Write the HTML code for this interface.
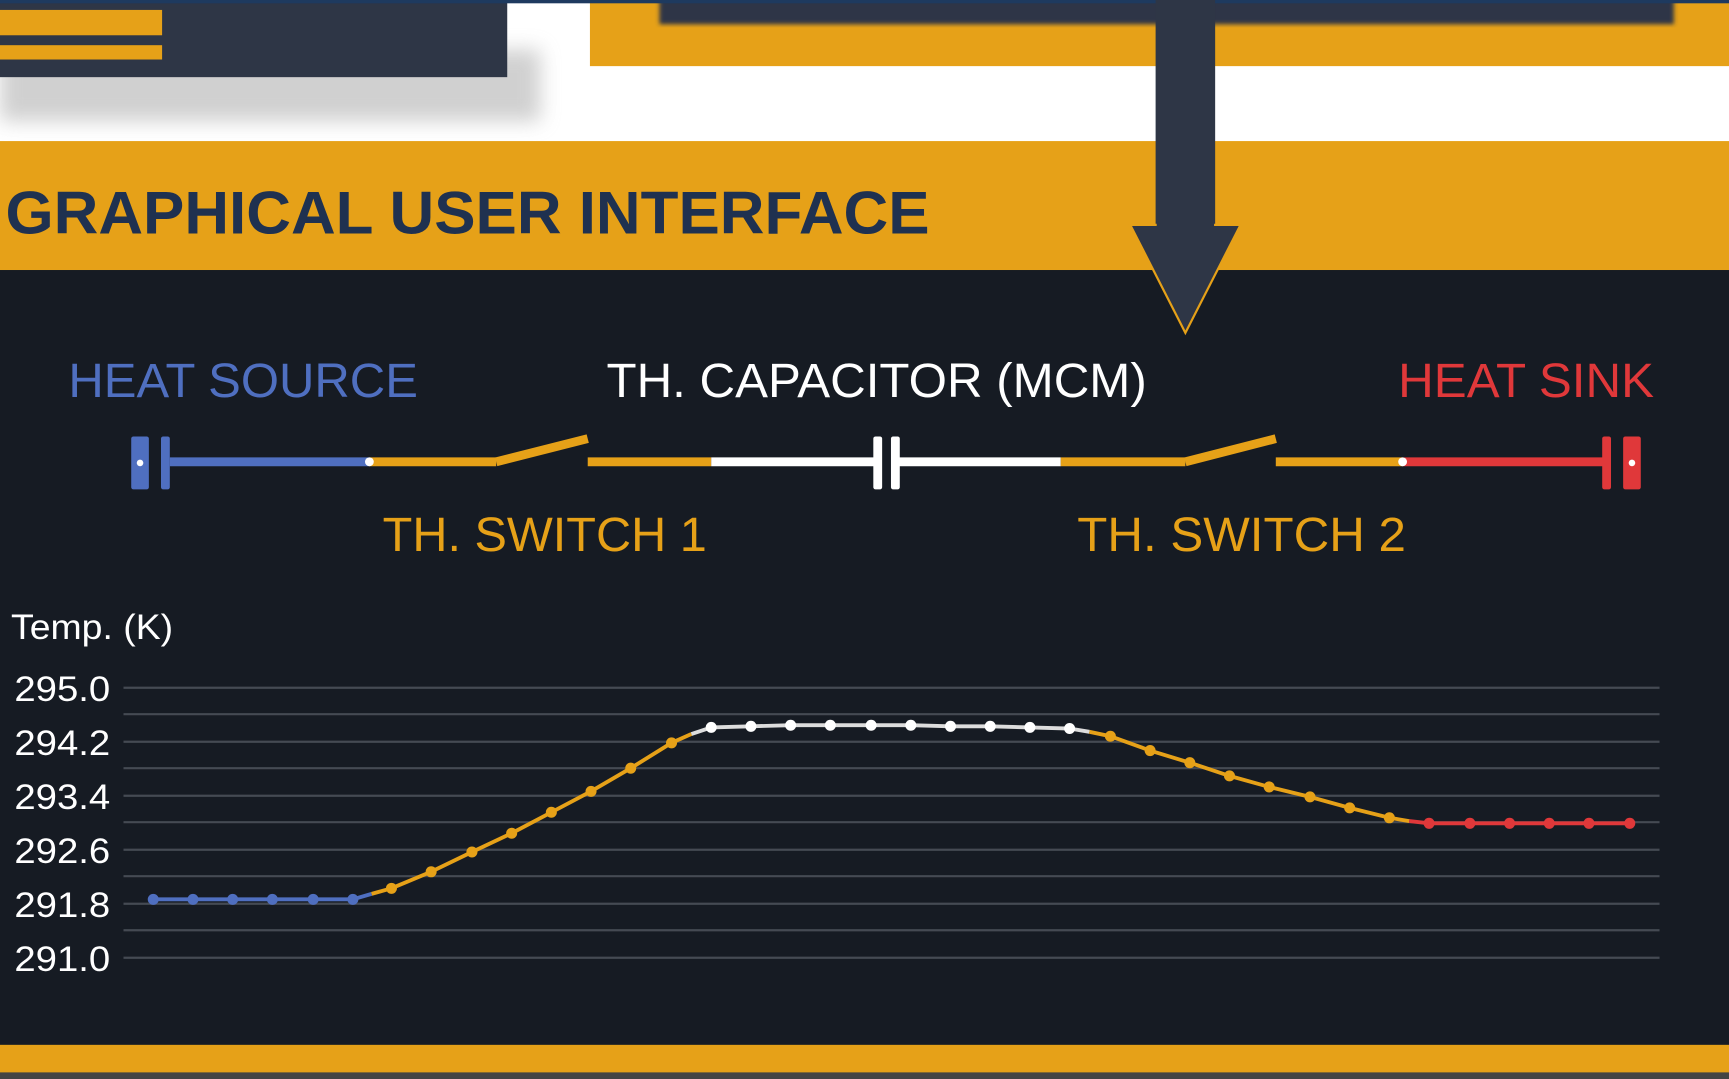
<!DOCTYPE html>
<html><head><meta charset="utf-8"><style>
html,body{margin:0;padding:0;background:#fff;overflow:hidden}
svg{display:block}
text{font-family:"Liberation Sans",Arial,sans-serif}
</style></head><body>
<svg width="1729" height="1079" viewBox="0 0 1568 979" preserveAspectRatio="none" xmlns="http://www.w3.org/2000/svg">
<defs>
<filter id="blur" x="-20%" y="-50%" width="140%" height="200%"><feGaussianBlur stdDeviation="9"/></filter>
<filter id="b2"><feGaussianBlur stdDeviation="2"/></filter>
</defs>
<rect width="1568" height="979" fill="#fff"/>
<rect x="535" y="0" width="1033" height="60" fill="#e6a118"/>
<rect x="598" y="-5" width="920" height="27" fill="#2e3646" filter="url(#b2)"/>
<rect x="0" y="45" width="490" height="65" fill="#aaa" opacity="0.55" filter="url(#blur)"/>
<rect x="0" y="0" width="460" height="70" fill="#2e3646"/>
<rect x="0" y="9" width="147" height="23" fill="#e6a118"/>
<rect x="0" y="41" width="147" height="13" fill="#e6a118"/>
<rect x="0" y="0" width="1568" height="3" fill="#1e3a5f"/>
<rect x="0" y="128" width="1568" height="120" fill="#e6a118"/>
<text x="5" y="212" font-size="55" font-weight="bold" fill="#1f3150" textLength="838" lengthAdjust="spacingAndGlyphs">GRAPHICAL USER INTERFACE</text>
<rect x="0" y="245" width="1568" height="704" fill="#161b23"/>
<rect x="0" y="948" width="1568" height="26" fill="#e6a118"/>
<rect x="0" y="973" width="1568" height="6" fill="#444"/>
<rect x="1048" y="0" width="54" height="206" fill="#2e3646"/>
<polygon points="1025,204 1125,204 1075,302" fill="#2e3646" stroke="#e6a118" stroke-width="2"/>
<rect x="1049" y="0" width="52" height="208" fill="#2e3646"/>
<text x="62" y="360" font-size="44" fill="#4f6fc0" textLength="317" lengthAdjust="spacingAndGlyphs">HEAT SOURCE</text>
<text x="550" y="360" font-size="44" fill="#ffffff" textLength="490" lengthAdjust="spacingAndGlyphs">TH. CAPACITOR (MCM)</text>
<text x="1268" y="360" font-size="44" fill="#e0383a" textLength="232" lengthAdjust="spacingAndGlyphs">HEAT SINK</text>
<text x="347" y="500" font-size="44" fill="#e6a118" textLength="294" lengthAdjust="spacingAndGlyphs">TH. SWITCH 1</text>
<text x="977" y="500" font-size="44" fill="#e6a118" textLength="298" lengthAdjust="spacingAndGlyphs">TH. SWITCH 2</text>
<g stroke-width="8" fill="none">
<line x1="154" y1="419" x2="335" y2="419" stroke="#4f6fc0"/>
<line x1="335" y1="419" x2="450" y2="419" stroke="#e6a118"/>
<line x1="450" y1="419" x2="533" y2="398" stroke="#e6a118"/>
<line x1="533" y1="419" x2="645" y2="419" stroke="#e6a118"/>
<line x1="645" y1="419" x2="793" y2="419" stroke="#fff"/>
<line x1="815" y1="419" x2="962" y2="419" stroke="#fff"/>
<line x1="962" y1="419" x2="1075" y2="419" stroke="#e6a118"/>
<line x1="1075" y1="419" x2="1157" y2="398" stroke="#e6a118"/>
<line x1="1157" y1="419" x2="1272" y2="419" stroke="#e6a118"/>
<line x1="1272" y1="419" x2="1455" y2="419" stroke="#e0383a"/>
</g>
<rect x="119" y="396" width="16" height="48" rx="2" fill="#4f6fc0"/>
<rect x="146" y="396" width="8" height="48" rx="2" fill="#4f6fc0"/>
<circle cx="127" cy="420" r="3" fill="#fff"/>
<rect x="792" y="396" width="8" height="48" rx="2" fill="#fff"/>
<rect x="808" y="396" width="8" height="48" rx="2" fill="#fff"/>
<rect x="1453" y="396" width="8" height="48" rx="2" fill="#e0383a"/>
<rect x="1472" y="396" width="16" height="48" rx="2" fill="#e0383a"/>
<circle cx="1480" cy="420" r="3" fill="#fff"/>
<circle cx="335" cy="419" r="4" fill="#fff"/>
<circle cx="1272" cy="419" r="4" fill="#fff"/>
<text x="10" y="580" font-size="32" fill="#fff" textLength="147" lengthAdjust="spacingAndGlyphs">Temp. (K)</text>
<g font-size="32" fill="#fff">
<text x="13" y="636" textLength="87" lengthAdjust="spacingAndGlyphs">295.0</text>
<text x="13" y="685" textLength="87" lengthAdjust="spacingAndGlyphs">294.2</text>
<text x="13" y="734" textLength="87" lengthAdjust="spacingAndGlyphs">293.4</text>
<text x="13" y="783" textLength="87" lengthAdjust="spacingAndGlyphs">292.6</text>
<text x="13" y="832" textLength="87" lengthAdjust="spacingAndGlyphs">291.8</text>
<text x="13" y="881" textLength="87" lengthAdjust="spacingAndGlyphs">291.0</text>
</g>
<g stroke="#454a53" stroke-width="2">
<line x1="112" y1="624" x2="1505" y2="624"/>
<line x1="112" y1="648" x2="1505" y2="648"/>
<line x1="112" y1="673" x2="1505" y2="673"/>
<line x1="112" y1="697" x2="1505" y2="697"/>
<line x1="112" y1="722" x2="1505" y2="722"/>
<line x1="112" y1="746" x2="1505" y2="746"/>
<line x1="112" y1="771" x2="1505" y2="771"/>
<line x1="112" y1="795" x2="1505" y2="795"/>
<line x1="112" y1="820" x2="1505" y2="820"/>
<line x1="112" y1="844" x2="1505" y2="844"/>
<line x1="112" y1="869" x2="1505" y2="869"/>
</g>
<g fill="none" stroke-width="3.5">
<polyline stroke="#4f6fc0" points="139,816 175,816 211,816 247,816 284,816 320,816 337,811"/>
<polyline stroke="#e6a118" points="337,811 355,806 391,791 428,773 464,756 500,737 536,718 572,697 609,674 627,666"/>
<polyline stroke="#ddd" points="627,666 645,660 681,659 717,658 753,658 790,658 826,658 862,659 898,659 934,660 970,661 988,664"/>
<polyline stroke="#e6a118" points="988,664 1007,668 1043,681 1079,692 1115,704 1151,714 1188,723 1224,733 1260,742 1278,745"/>
<polyline stroke="#e0383a" points="1278,745 1296,747 1333,747 1369,747 1405,747 1441,747 1478,747"/>
</g>
<g fill="#4f6fc0"><circle cx="139" cy="816" r="5"/><circle cx="175" cy="816" r="5"/><circle cx="211" cy="816" r="5"/><circle cx="247" cy="816" r="5"/><circle cx="284" cy="816" r="5"/><circle cx="320" cy="816" r="5"/></g>
<g fill="#e6a118"><circle cx="355" cy="806" r="5"/><circle cx="391" cy="791" r="5"/><circle cx="428" cy="773" r="5"/><circle cx="464" cy="756" r="5"/><circle cx="500" cy="737" r="5"/><circle cx="536" cy="718" r="5"/><circle cx="572" cy="697" r="5"/><circle cx="609" cy="674" r="5"/>
<circle cx="1007" cy="668" r="5"/><circle cx="1043" cy="681" r="5"/><circle cx="1079" cy="692" r="5"/><circle cx="1115" cy="704" r="5"/><circle cx="1151" cy="714" r="5"/><circle cx="1188" cy="723" r="5"/><circle cx="1224" cy="733" r="5"/><circle cx="1260" cy="742" r="5"/></g>
<g fill="#fff"><circle cx="645" cy="660" r="5"/><circle cx="681" cy="659" r="5"/><circle cx="717" cy="658" r="5"/><circle cx="753" cy="658" r="5"/><circle cx="790" cy="658" r="5"/><circle cx="826" cy="658" r="5"/><circle cx="862" cy="659" r="5"/><circle cx="898" cy="659" r="5"/><circle cx="934" cy="660" r="5"/><circle cx="970" cy="661" r="5"/></g>
<g fill="#e0383a"><circle cx="1296" cy="747" r="5"/><circle cx="1333" cy="747" r="5"/><circle cx="1369" cy="747" r="5"/><circle cx="1405" cy="747" r="5"/><circle cx="1441" cy="747" r="5"/><circle cx="1478" cy="747" r="5"/></g>
</svg>
</body></html>
